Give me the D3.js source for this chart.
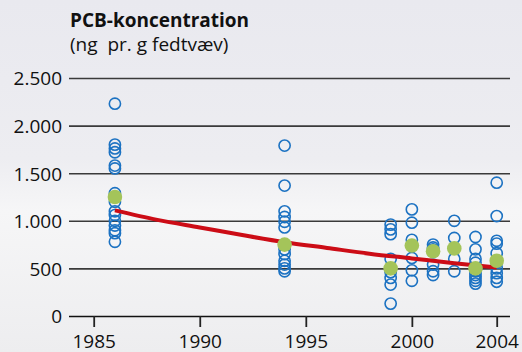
<!DOCTYPE html>
<html>
<head>
<meta charset="utf-8">
<script src="https://cdn.jsdelivr.net/npm/d3@7"></script>
<style>
  html, body { margin: 0; padding: 0; }
  body { width: 522px; height: 352px; overflow: hidden; }
  text { font-family: "Open Sans", "Noto Sans", sans-serif; fill: #111; }
</style>
</head>
<body>
<div id="chart"></div>
<script>
// Sample years and single measurements (ng PCB pr. g fedtvæv)
var years = [1986, 1994, 1999, 2000, 2001, 2002, 2003, 2004];
var samples = [
    [2230, 1800, 1760, 1720, 1580, 1550, 1290, 1250, 1200, 1100, 1060, 1000, 950, 900, 870, 780],
    [1790, 1370, 1100, 1040, 990, 930, 700, 650, 580, 540, 500, 470],
    [960, 910, 860, 600, 460, 400, 330, 130],
    [1120, 980, 800, 610, 480, 370],
    [750, 720, 700, 540, 470, 430],
    [1000, 820, 600, 470],
    [830, 700, 600, 560, 470, 430, 400, 370, 340],
    [1400, 1050, 790, 760, 660, 560, 500, 450, 400, 360]
];
// Yearly means (green dots)
var means = [1250, 750, 500, 740, 680, 710, 500, 580];

// Trend curve
var trendYears = [1986, 1988, 1990, 1992, 1994, 1996, 1998, 2000, 2002, 2004];
var trendValues = [1110, 1010, 930, 850, 775, 715, 655, 605, 555, 510];

var yTicks = [0, 500, 1000, 1500, 2000, 2500];
var xTicks = [1985, 1990, 1995, 2000, 2004];

var width = 522, height = 352;
var left = 69, right = 510;

var svg = d3.select("#chart").append("svg")
        .attr("width", width)
        .attr("height", height);

// Background: pale grey with a lighter band
var grad = svg.append("defs").append("linearGradient")
        .attr("id", "bg").attr("x1", 0).attr("y1", 0).attr("x2", 0).attr("y2", 1);
grad.append("stop").attr("offset", "0%").attr("stop-color", "#e9e9ef");
grad.append("stop").attr("offset", "45%").attr("stop-color", "#ededf1");
grad.append("stop").attr("offset", "60%").attr("stop-color", "#f6f6f7");
grad.append("stop").attr("offset", "100%").attr("stop-color", "#ededef");
svg.append("rect").attr("width", width).attr("height", height).style("fill", "url(#bg)");

var x = d3.scaleLinear().domain([1985, 2004]).range([93.7, 496.7]);
var y = d3.scaleLinear().domain([0, 2500]).range([316, 78]);

var dk = d3.formatLocale({decimal: ",", thousands: ".", grouping: [3], currency: ["", ""]});
var fmt = dk.format(",");

// Title
svg.append("text").attr("x", 70).attr("y", 27)
        .style("font-size", "19px").style("font-weight", "bold")
        .text("PCB-koncentration");
svg.append("text").attr("x", 70).attr("y", 51)
        .style("font-size", "19px").style("white-space", "pre")
        .text("(ng  pr. g fedtvæv)");

// Y axis with gridlines
var yAxis = svg.append("g")
        .attr("transform", "translate(" + left + ",0)")
        .call(d3.axisLeft(y).tickValues(yTicks).tickFormat(fmt)
            .tickSize(-(right - left)).tickPadding(7));
yAxis.select(".domain").remove();
yAxis.selectAll(".tick line")
        .style("stroke", function(d) { return d === 0 ? "#111" : "#3a3a3a"; })
        .style("stroke-width", 1.6);
yAxis.selectAll(".tick text")
        .style("font-size", "19px").style("font-family", "'Open Sans', sans-serif")
        .attr("dy", "0.36em");

// X axis
var xAxis = svg.append("g")
        .attr("transform", "translate(0," + y(0) + ")")
        .call(d3.axisBottom(x).tickValues(xTicks).tickFormat(d3.format("d"))
            .tickSize(11).tickPadding(8));
xAxis.select(".domain").remove();
xAxis.selectAll(".tick line").style("stroke", "#222").style("stroke-width", 1.8);
xAxis.selectAll(".tick text")
        .style("font-size", "19px").style("font-family", "'Open Sans', sans-serif");

// Individual samples
var points = [];
years.forEach(function(yr, i) {
    samples[i].forEach(function(v) { points.push({year: yr, value: v}); });
});
svg.append("g").selectAll("circle").data(points).enter().append("circle")
        .attr("cx", function(d) { return x(d.year); })
        .attr("cy", function(d) { return y(d.value); })
        .attr("r", 5.6)
        .style("fill", "none")
        .style("stroke", "#1c72c2")
        .style("stroke-width", 1.6);

// Trend curve
var line = d3.line()
        .x(function(d, i) { return x(trendYears[i]); })
        .y(function(d) { return y(d); })
        .curve(d3.curveMonotoneX);
svg.append("path").datum(trendValues)
        .attr("d", line)
        .style("fill", "none")
        .style("stroke", "#cc0c16")
        .style("stroke-width", 4);

// Means
svg.append("g").selectAll("circle").data(means).enter().append("circle")
        .attr("cx", function(d, i) { return x(years[i]); })
        .attr("cy", function(d) { return y(d); })
        .attr("r", 7.3)
        .style("fill", "#a4c45a");
</script>
</body>
</html>
